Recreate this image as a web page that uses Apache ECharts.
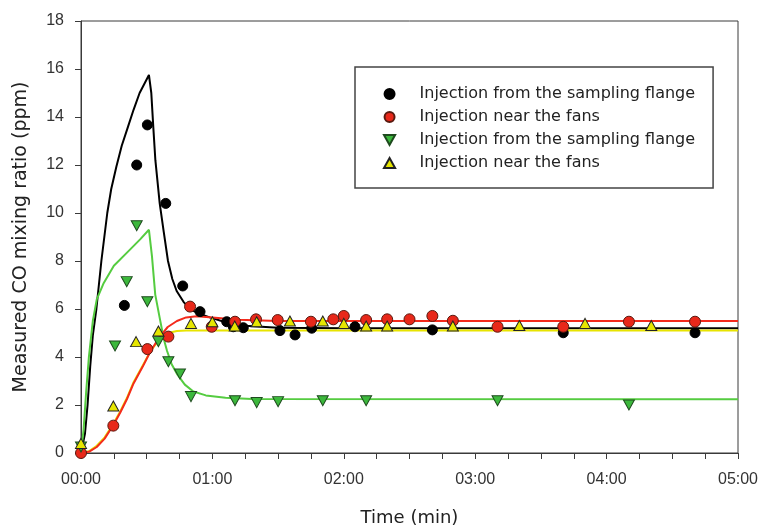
<!DOCTYPE html>
<html>
<head>
<meta charset="utf-8">
<script src="https://cdn.jsdelivr.net/npm/echarts@6/dist/echarts.min.js"></script>
<style>
html,body{margin:0;padding:0;background:#fff;}
#c{width:767px;height:526px;}
</style>
</head>
<body>
<div id="c"></div>
<script>
// ---- data (time in minutes, CO in ppm) ----
const seriesNames = [
  'Injection from the sampling flange',
  'Injection near the fans',
  'Injection from the sampling flange\u200b',
  'Injection near the fans\u200b'
];
const xTickLabels = ['00:00', '01:00', '02:00', '03:00', '04:00', '05:00'];

const blackPoints = [
  [0.33, 6.15], [0.424, 12.0], [0.505, 13.67], [0.645, 10.4], [0.774, 6.96],
  [0.906, 5.89], [1.109, 5.47], [1.159, 5.26], [1.235, 5.22], [1.514, 5.1],
  [1.629, 4.92], [1.756, 5.2], [2.085, 5.26], [2.674, 5.13], [3.67, 5.01], [4.673, 5.01]
];
const redPoints = [
  [0, 0], [0.246, 1.14], [0.505, 4.33], [0.665, 4.85], [0.83, 6.1], [0.995, 5.26],
  [1.172, 5.47], [1.332, 5.57], [1.497, 5.54], [1.75, 5.47], [1.92, 5.57], [2.0, 5.71],
  [2.17, 5.54], [2.33, 5.57], [2.5, 5.57], [2.674, 5.71], [2.83, 5.51], [3.17, 5.26],
  [3.67, 5.26], [4.17, 5.47], [4.673, 5.47]
];
const greenPoints = [
  [0, 0.25], [0.259, 4.46], [0.348, 7.14], [0.424, 9.47], [0.505, 6.3], [0.589, 4.64],
  [0.665, 3.8], [0.753, 3.29], [0.837, 2.35], [1.172, 2.18], [1.337, 2.1], [1.5, 2.14],
  [1.84, 2.18], [2.17, 2.18], [3.17, 2.18], [4.17, 2.0]
];
const yellowPoints = [
  [0, 0.4], [0.246, 1.96], [0.419, 4.64], [0.589, 5.08], [0.837, 5.4], [1.0, 5.47],
  [1.17, 5.29], [1.337, 5.47], [1.59, 5.5], [1.84, 5.5], [2.0, 5.4], [2.17, 5.29],
  [2.33, 5.29], [2.83, 5.29], [3.336, 5.31], [3.836, 5.4], [4.34, 5.31]
];

const blackCurve = [
  [0, 0], [0.03, 0.8], [0.05, 2], [0.07, 3.6], [0.09, 4.9], [0.117, 6], [0.155, 8],
  [0.2, 10], [0.23, 11], [0.269, 11.93], [0.31, 12.8], [0.358, 13.6], [0.4, 14.3],
  [0.446, 15.0], [0.517, 15.75], [0.535, 15.0], [0.55, 13.6], [0.566, 12.2],
  [0.599, 10.4], [0.63, 9.2], [0.662, 8.0], [0.695, 7.25], [0.728, 6.75], [0.78, 6.3],
  [0.83, 6.0], [0.9, 5.8], [0.98, 5.65], [1.1, 5.45], [1.25, 5.3], [1.5, 5.22],
  [2.0, 5.2], [5.0, 5.2]
];
const greenCurve = [
  [0, 0], [0.02, 1], [0.04, 2.6], [0.06, 4], [0.09, 5.5], [0.12, 6.4], [0.17, 7.05],
  [0.25, 7.8], [0.35, 8.35], [0.45, 8.9], [0.517, 9.3], [0.54, 8.2], [0.565, 6.6],
  [0.6, 5.6], [0.63, 4.75], [0.655, 4.25], [0.69, 3.7], [0.73, 3.3],
  [0.79, 2.85], [0.855, 2.56], [0.95, 2.4], [1.1, 2.3], [1.3, 2.25], [5.0, 2.24]
];
const redCurve = [
  [0, 0], [0.06, 0.05], [0.12, 0.25], [0.18, 0.6], [0.25, 1.2], [0.3, 1.7], [0.35, 2.25],
  [0.4, 2.9], [0.47, 3.6], [0.53, 4.25], [0.6, 4.85], [0.66, 5.25], [0.73, 5.5],
  [0.8, 5.65], [0.88, 5.7], [1.0, 5.65], [1.2, 5.55], [1.5, 5.5], [5.0, 5.5]
];
const yellowCurve = [
  [0, 0], [0.06, 0.07], [0.12, 0.3], [0.18, 0.65], [0.25, 1.25], [0.3, 1.75], [0.35, 2.3],
  [0.4, 2.95], [0.47, 3.65], [0.53, 4.25], [0.6, 4.75], [0.66, 5.0], [0.73, 5.08],
  [0.8, 5.1], [1.0, 5.1], [5.0, 5.1]
];

const downTri = 'path://M0,0 L10,0 L5,9 Z';
const upTri = 'path://M5,0 L10,9 L0,9 Z';

const chart = echarts.init(document.getElementById('c'), null, {renderer: 'canvas'});
const axisColor = '#3a3a3a';
const labelFont = "'Liberation Sans', Arial, sans-serif";
const titleFont = "'DejaVu Sans', sans-serif";

function curve(name, data, color) {
  return {
    name: name, type: 'line', data: data, symbol: 'none', smooth: false,
    lineStyle: {color: color, width: 2}, z: 2, silent: true
  };
}
function points(name, data, symbol, size, fill, border) {
  return {
    name: name, type: 'scatter', data: data, symbol: symbol, symbolSize: size,
    itemStyle: {color: fill, borderColor: border, borderWidth: 1, opacity: 1}, z: 3
  };
}

chart.setOption({
  animation: false,
  backgroundColor: '#fff',
  grid: {
    left: 81, right: 29, top: 21, bottom: 73,
    outerBoundsMode: 'none', containLabel: false,
    show: true, borderColor: axisColor, borderWidth: 1, backgroundColor: 'transparent'
  },
  legend: {
    data: seriesNames,
    orient: 'vertical',
    left: 355, top: 67,
    padding: [19, 18, 17, 28],
    itemWidth: 50, itemHeight: 10, itemGap: 7,
    borderColor: '#444', borderWidth: 1.5,
    backgroundColor: '#fff',
    textStyle: {fontFamily: titleFont, fontSize: 16, color: '#222', lineHeight: 14},
    selectedMode: false
  },
  xAxis: {
    type: 'value', min: 0, max: 5, interval: 0.25,
    name: 'Time (min)', nameLocation: 'middle', nameGap: 56,
    nameTextStyle: {fontFamily: titleFont, fontSize: 18, color: '#222'},
    axisLine: {show: true, lineStyle: {color: axisColor, width: 1}},
    axisTick: {show: true, inside: false, length: 6, lineStyle: {color: axisColor}},
    axisLabel: {
      fontFamily: labelFont, fontSize: 16, color: '#333', margin: 19,
      formatter: function (v) {
        const i = Math.round(v);
        return Math.abs(v - i) < 1e-6 ? xTickLabels[i] : '';
      }
    },
    splitLine: {show: false}
  },
  yAxis: {
    type: 'value', min: 0, max: 18, interval: 2,
    name: 'Measured CO mixing ratio (ppm)', nameLocation: 'middle', nameGap: 50,
    nameTextStyle: {fontFamily: titleFont, fontSize: 19, color: '#222'},
    axisLine: {show: true, lineStyle: {color: axisColor, width: 1}},
    axisTick: {show: true, inside: false, length: 6, lineStyle: {color: axisColor}},
    axisLabel: {fontFamily: labelFont, fontSize: 16, color: '#333', margin: 17},
    splitLine: {show: false}
  },
  series: [
    curve('model black', blackCurve, '#000000'),
    curve('model green', greenCurve, '#55cc40'),
    curve('model yellow', yellowCurve, '#e8e400'),
    curve('model red', redCurve, '#f42a1c'),
    points(seriesNames[0], blackPoints, 'circle', 10, '#000000', '#000000'),
    points(seriesNames[1], redPoints, 'circle', 11, '#e8281a', '#5a1a10'),
    points(seriesNames[2], greenPoints, downTri, [11, 10], '#3cb83c', '#1e4a1e'),
    points(seriesNames[3], yellowPoints, upTri, [11, 10], '#e6e600', '#222')
  ]
});
</script>
</body>
</html>
